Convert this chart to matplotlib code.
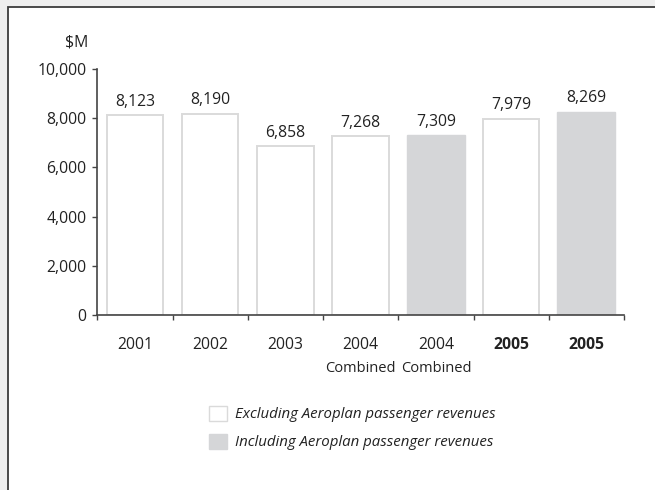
import matplotlib.pyplot as plt
from matplotlib.patches import Rectangle

# Operating revenues, $M
years = ['2001', '2002', '2003', '2004', '2004', '2005', '2005']
notes = ['', '', '', 'Combined', 'Combined', '', '']
revenues = [8123, 8190, 6858, 7268, 7309, 7979, 8269]
incl_aeroplan = [False, False, False, False, True, False, True]
bold_years = [False, False, False, False, False, True, True]
legend_labels = ['Excluding Aeroplan passenger revenues',
                 'Including Aeroplan passenger revenues']

W, H = 655, 490
plt.rcParams['font.family'] = ['Open Sans', 'DejaVu Sans']

fig = plt.figure(figsize=(W / 100, H / 100), dpi=100)
fig.patch.set_facecolor('#efefef')

# white panel with a dark rule along the top and left
panel = Rectangle((7.5 / W, -0.1), 1.2, (H - 7.5) / H + 0.1,
                  transform=fig.transFigure, facecolor='white',
                  edgecolor='#3c3c3c', linewidth=1.3, zorder=-10)
fig.patches.append(panel)

ax = fig.add_axes([97.3 / W, (H - 315) / H, (624 - 97.3) / W, (315 - 69) / H])
ax.set_facecolor('none')
ax.set_zorder(5)

grey = '#d5d6d8'
for i, v in enumerate(revenues):
    if incl_aeroplan[i]:
        ax.bar(i, v, width=0.77, color=grey, edgecolor=grey, linewidth=1.0)
    else:
        ax.bar(i, v, width=0.75, color='white', edgecolor='#dadada', linewidth=1.4)
    ax.annotate(f'{v:,}', (i, v), xytext=(0, 4), textcoords='offset points',
                ha='center', va='bottom', fontsize=11.3, color='#222222',
                annotation_clip=False)

ax.set_xlim(-0.5, len(revenues) - 0.5)
ax.set_ylim(0, 10000)
ax.set_yticks(range(0, 10001, 2000))
ax.set_yticklabels([f'{t:,}' for t in range(0, 10001, 2000)])
ax.set_xticks([i - 0.5 for i in range(len(revenues) + 1)])
ax.set_xticklabels([])

for s in ['top', 'right']:
    ax.spines[s].set_visible(False)
for s in ['left', 'bottom']:
    ax.spines[s].set_color('#444444')
    ax.spines[s].set_linewidth(1.2)
ax.tick_params(axis='both', colors='#444444', width=1.0, length=3.8,
               labelsize=11.3, labelcolor='#222222')
ax.tick_params(axis='y', pad=4)

# category labels under the axis
for i, (yr, nt) in enumerate(zip(years, notes)):
    ax.annotate(yr, (i, 0), xytext=(0, -30 * 0.72), textcoords='offset points',
                ha='center', va='center', fontsize=11.3, color='#222222',
                fontweight='bold' if bold_years[i] else 'normal',
                annotation_clip=False)
    if nt:
        ax.annotate(nt, (i, 0), xytext=(0, -54 * 0.72), textcoords='offset points',
                    ha='center', va='center', fontsize=10.5, color='#222222',
                    annotation_clip=False)

fig.text(88 / W, 1 - 42.5 / H, '$M', ha='right', va='center',
         fontsize=11.3, color='#222222')

# legend boxes
for k, (lab, fc, ec) in enumerate(zip(legend_labels, ['white', grey], ['#dadada', grey])):
    top = 406 + 28 * k
    fig.patches.append(Rectangle((208.5 / W, 1 - (top + 15) / H), 18 / W, 15 / H,
                                 transform=fig.transFigure, facecolor=fc,
                                 edgecolor=ec, linewidth=1.0))
    fig.text(235 / W, 1 - (top + 8.5) / H, lab, ha='left', va='center',
             fontsize=10.8, style='italic', color='#222222')

fig.savefig('out.png', dpi=100, facecolor=fig.get_facecolor())
